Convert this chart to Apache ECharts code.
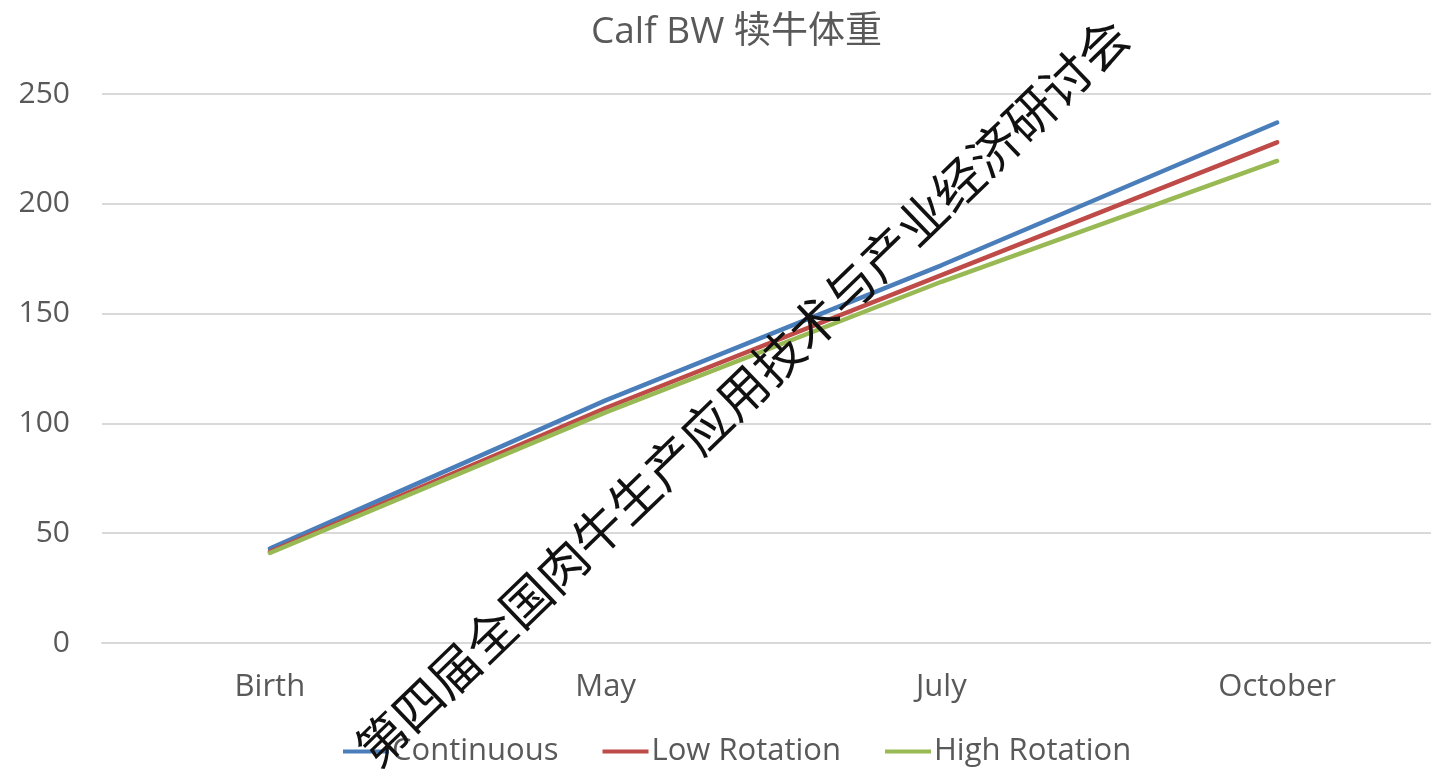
<!DOCTYPE html>
<html>
<head>
<meta charset="utf-8">
<style>
  html, body { margin: 0; padding: 0; background: #fff; overflow: hidden; }
  #chart { width: 1445px; height: 776px; }
</style>
<script src="https://cdn.jsdelivr.net/npm/echarts@6/dist/echarts.min.js"></script>
</head>
<body>
<div id="chart"></div>
<script>
// Calf body weight (kg) by grazing system
const categories = ['Birth', 'May', 'July', 'October'];
const continuous = [43, 110.5, 172, 237];
const lowRotation = [41.5, 107, 167.5, 228];
const highRotation = [41, 105, 164.5, 219.5];
const yTicks = { min: 0, max: 250, interval: 50 };

const FONT = '"Open Sans", "Noto Sans CJK SC", sans-serif';
const TEXT_COLOR = '#595959';

const chart = echarts.init(document.getElementById('chart'));

function lineSeries(name, data, color) {
  return {
    name: name,
    type: 'line',
    data: data,
    symbol: 'none',
    smooth: false,
    lineStyle: { width: 4.5, color: color, cap: 'round' },
    itemStyle: { color: color }
  };
}

chart.setOption({
  animation: false,
  backgroundColor: '#ffffff',
  title: {
    text: 'Calf BW 犊牛体重',
    left: 586,
    top: 9,
    textStyle: { fontFamily: FONT, fontSize: 37, fontWeight: 'normal', color: TEXT_COLOR }
  },
  legend: {
    bottom: 4,
    left: 338,
    itemWidth: 46,
    itemHeight: 4,
    itemGap: 44,
    icon: 'rect',
    textStyle: { fontFamily: FONT, fontSize: 31, color: TEXT_COLOR, padding: [0, 0, 0, -2] },
    data: ['Continuous', 'Low Rotation', 'High Rotation']
  },
  grid: { left: 102, right: 0, top: 94, bottom: 133, containLabel: false },
  xAxis: {
    type: 'category',
    data: categories,
    boundaryGap: true,
    axisLine: { show: true, lineStyle: { color: '#d9d9d9', width: 2 } },
    axisTick: { show: false },
    axisLabel: { fontFamily: FONT, fontSize: 31, color: TEXT_COLOR, margin: 29 }
  },
  yAxis: {
    type: 'value',
    min: yTicks.min,
    max: yTicks.max,
    interval: yTicks.interval,
    axisLine: { show: false },
    axisTick: { show: false },
    axisLabel: { fontFamily: FONT, fontSize: 30, color: TEXT_COLOR, margin: 32 },
    splitLine: { lineStyle: { color: '#d9d9d9', width: 2 } }
  },
  series: [
    lineSeries('Continuous', continuous, '#4a7ebb'),
    lineSeries('Low Rotation', lowRotation, '#be4b48'),
    lineSeries('High Rotation', highRotation, '#98b954')
  ],
  graphic: [{
    type: 'text',
    x: 742,
    y: 392,
    rotation: 44 * Math.PI / 180,
    z: 100,
    style: {
      text: '第四届全国肉牛生产应用技术与产业经济研讨会',
      fontFamily: '"Noto Sans CJK SC", sans-serif',
      fontSize: 50,
      fill: '#111111',
      align: 'center',
      verticalAlign: 'middle'
    }
  }]
});
</script>
</body>
</html>
